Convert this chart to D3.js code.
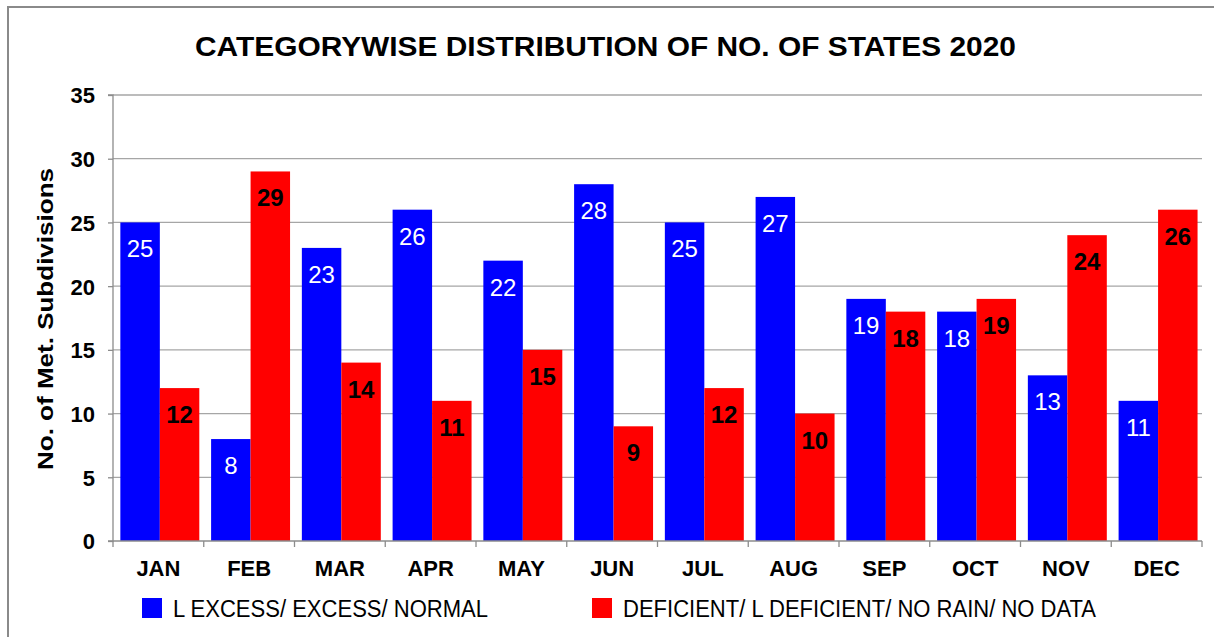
<!DOCTYPE html>
<html>
<head>
<meta charset="utf-8">
<script src="https://cdn.jsdelivr.net/npm/d3@7"></script>
<style>
  html, body { margin: 0; padding: 0; background: #fff; }
  svg { display: block; }
  text { font-family: "Liberation Sans", Arial, sans-serif; }
</style>
</head>
<body>
<svg id="chart" width="1214" height="637"></svg>
<script>
const months = ["JAN","FEB","MAR","APR","MAY","JUN","JUL","AUG","SEP","OCT","NOV","DEC"];
const seriesNames = ["L EXCESS/ EXCESS/ NORMAL", "DEFICIENT/ L DEFICIENT/ NO RAIN/ NO DATA"];
const excessNormal = [25, 8, 23, 26, 22, 28, 25, 27, 19, 18, 13, 11];
const deficient = [12, 29, 14, 11, 15, 9, 12, 10, 18, 19, 24, 26];
const yTicks = [0, 5, 10, 15, 20, 25, 30, 35];
const titleText = "CATEGORYWISE DISTRIBUTION OF NO. OF STATES 2020";
const yLabel = "No. of Met. Subdivisions";

const colors = ["#0000FF", "#FF0000"];
const svg = d3.select("#chart");

// frame
svg.append("rect").attr("x", 8).attr("y", 7).attr("width", 1230).attr("height", 660)
  .attr("fill", "none").attr("stroke", "#8a8a8a").attr("stroke-width", 2);

const pLeft = 113, pRight = 1202, pTop = 95, pBottom = 541;
const x = d3.scaleBand().domain(months).range([pLeft, pRight]).padding(0);
const bw = x.bandwidth();
const xs = d3.scaleBand().domain([0, 1]).range([bw * 0.081, bw * 0.951]).padding(0);
const y = d3.scaleLinear().domain([0, 35]).range([pBottom, pTop]);

// gridlines
svg.append("g").selectAll("line").data(yTicks.filter(t => t > 0)).join("line")
  .attr("x1", pLeft).attr("x2", pRight)
  .attr("y1", d => y(d)).attr("y2", d => y(d))
  .attr("stroke", "#a6a6a6").attr("stroke-width", 1.3);

// bars
const data = months.map((m, i) => ({ m, vals: [excessNormal[i], deficient[i]] }));
const groups = svg.append("g").selectAll("g").data(data).join("g")
  .attr("transform", d => `translate(${x(d.m)},0)`);
groups.selectAll("rect").data(d => d.vals.map((v, k) => ({ v, k }))).join("rect")
  .attr("x", d => xs(d.k)).attr("width", xs.bandwidth())
  .attr("y", d => y(d.v)).attr("height", d => y(0) - y(d.v))
  .attr("fill", d => colors[d.k]);
groups.selectAll("text").data(d => d.vals.map((v, k) => ({ v, k }))).join("text")
  .attr("x", d => xs(d.k) + xs.bandwidth() / 2)
  .attr("y", d => y(d.v) + 35)
  .attr("text-anchor", "middle")
  .attr("font-size", 24)
  .attr("font-weight", d => d.k === 0 ? "normal" : "bold")
  .attr("fill", d => d.k === 0 ? "#fff" : "#000")
  .text(d => d.v);

// y axis
const yAxis = svg.append("g").attr("transform", `translate(${pLeft},0)`)
  .call(d3.axisLeft(y).tickValues(yTicks).tickSize(5).tickPadding(13));
yAxis.select(".domain").attr("stroke", "#8c8c8c").attr("stroke-width", 1.3).attr("d", `M-5,${pTop}H0V${pBottom}H-5`);
yAxis.selectAll(".tick line").attr("stroke", "#8c8c8c").attr("stroke-width", 1.3);
yAxis.selectAll(".tick text").attr("font-size", 22).attr("font-weight", "bold")
  .attr("fill", "#000").attr("font-family", "Liberation Sans, Arial, sans-serif").attr("dy", "0.36em");

// x axis
const xAxis = svg.append("g").attr("transform", `translate(0,${pBottom})`)
  .call(d3.axisBottom(x).tickSize(0).tickPadding(0));
xAxis.select(".domain").attr("stroke", "#8c8c8c").attr("stroke-width", 1.3).attr("d", `M${pLeft},0H${pRight}`);
xAxis.selectAll(".tick text").attr("font-size", 22).attr("font-weight", "bold")
  .attr("fill", "#000").attr("font-family", "Liberation Sans, Arial, sans-serif")
  .attr("dy", null).attr("y", 35);
svg.append("g").selectAll("line").data(months.concat(["__end"])).join("line")
  .attr("x1", (d, i) => pLeft + i * bw).attr("x2", (d, i) => pLeft + i * bw)
  .attr("y1", pBottom).attr("y2", pBottom + 6)
  .attr("stroke", "#8c8c8c").attr("stroke-width", 1.3);

// title
svg.append("text").attr("x", 605.5).attr("y", 56).attr("text-anchor", "middle")
  .attr("font-size", 27).attr("font-weight", "bold")
  .attr("textLength", 821).attr("lengthAdjust", "spacingAndGlyphs")
  .text(titleText);

// y label
svg.append("text").attr("transform", "translate(53,319) rotate(-90)")
  .attr("text-anchor", "middle").attr("font-size", 22).attr("font-weight", "bold")
  .attr("textLength", 302).attr("lengthAdjust", "spacingAndGlyphs")
  .text(yLabel);

// legend
const legendX = [142, 592];
const legendLen = [315, 473];
const lg = svg.append("g").selectAll("g").data(seriesNames).join("g")
  .attr("transform", (d, i) => `translate(${legendX[i]},598)`);
lg.append("rect").attr("width", 20).attr("height", 20).attr("fill", (d, i) => colors[i]);
lg.append("text").attr("x", 31).attr("y", 19).attr("font-size", 23)
  .attr("textLength", (d, i) => legendLen[i]).attr("lengthAdjust", "spacingAndGlyphs")
  .text(d => d);
</script>
</body>
</html>
